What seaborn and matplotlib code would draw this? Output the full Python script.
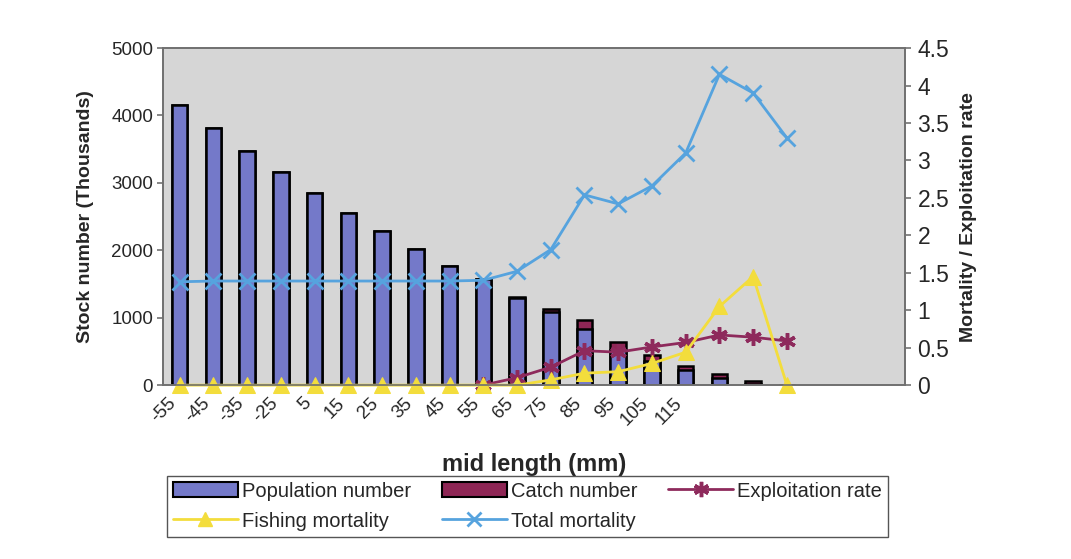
import numpy as np
import pandas as pd
import matplotlib
matplotlib.use("Agg")
import matplotlib.pyplot as plt
import seaborn as sns
from matplotlib.lines import Line2D
from matplotlib.patches import Patch
from matplotlib.ticker import FuncFormatter


# -----------------------------------------------------------------
# Datos (clases de talla, miles de individuos)
# -----------------------------------------------------------------
length_labels = ["-55", "-45", "-35", "-25", "5", "15", "25", "35", "45", "55",
                 "65", "75", "85", "95", "105", "115", "", "", "", "", "", ""]

population = [4160, 3810, 3477, 3156, 2853, 2557, 2285, 2013, 1766, 1568,
              1300, 1090, 835, 525, 365, 220, 100, 20, 0]
catch = [0, 0, 0, 0, 0, 0, 0, 0, 0, 0,
         10, 40, 130, 120, 80, 60, 60, 35, 5]

# la tasa de explotacion no tiene valores en las primeras clases
exploitation_rate = [np.nan, np.nan, np.nan, np.nan, np.nan, np.nan, np.nan, np.nan, np.nan, 0,
                     0.10, 0.24, 0.46, 0.44, 0.51, 0.57, 0.67, 0.64, 0.59]
fishing_mortality = [0, 0, 0, 0, 0, 0, 0, 0, 0, 0,
                     0, 0.07, 0.16, 0.18, 0.29, 0.44, 1.05, 1.45, 0]
total_mortality = [1.38, 1.39, 1.39, 1.39, 1.39, 1.39, 1.39, 1.39, 1.39, 1.40,
                   1.52, 1.81, 2.54, 2.42, 2.66, 3.10, 4.15, 3.90, 3.30]

# colores
pop_col = "#7479c9"
catch_col = "#8e2655"
expl_col = "#8e2a5c"
fish_col = "#f3dd3c"
total_col = "#56a3de"

sns.set_theme(style="white")
plt.rcParams['font.family'] = ['Liberation Sans', 'DejaVu Sans']

df = pd.DataFrame({
    "pos": np.arange(len(population)),
    "population": population,
    "catch": catch,
    "exploitation": exploitation_rate,
    "fishing": fishing_mortality,
    "total": total_mortality,
})
df["stack"] = df["population"] + df["catch"]

fig = plt.figure(figsize=(10.71, 5.59), dpi=100)
ax = fig.add_axes([0.152, 0.311, 0.693, 0.603])
ax.set_facecolor("#d6d6d6")

# barras apiladas: captura encima de la poblacion
sns.barplot(data=df, x="pos", y="stack", color=catch_col, saturation=1,
            width=0.46, edgecolor="black", linewidth=1.8, ax=ax)
sns.barplot(data=df, x="pos", y="population", color=pop_col, saturation=1,
            width=0.46, edgecolor="black", linewidth=1.8, ax=ax)

ax.set_xlim(-0.5, len(length_labels) - 0.5)
ax.set_ylim(0, 5000)
ax.set_yticks(np.arange(0, 5001, 1000))
ax.set_xticks(np.arange(len(length_labels)))
ax.set_xticklabels(length_labels, rotation=45, ha="right", fontsize=13.5)
ax.set_xticks(np.arange(-0.5, len(length_labels)), minor=True)
ax.tick_params(axis="x", which="major", length=0, pad=7)
ax.tick_params(axis="x", which="minor", length=4, color="#777777", direction="out")
ax.tick_params(axis="y", length=4, color="#777777", direction="out", labelsize=13.5, pad=3)
ax.set_ylabel("Stock number (Thousands)", fontsize=14, fontweight="bold", labelpad=12)
ax.set_xlabel("mid length (mm)", fontsize=17, fontweight="bold")
ax.xaxis.set_label_coords(0.5, -0.2)

# eje secundario: mortalidades y tasa de explotacion
ax2 = ax.twinx()
sns.lineplot(data=df, x="pos", y="exploitation", color=expl_col, linewidth=2,
             marker=(6, 2, 0), markersize=12, markeredgewidth=2.5,
             markeredgecolor=expl_col, clip_on=False, ax=ax2)
sns.lineplot(data=df, x="pos", y="fishing", color=fish_col, linewidth=2,
             marker="^", markersize=11, markeredgecolor=fish_col,
             clip_on=False, ax=ax2)
sns.lineplot(data=df, x="pos", y="total", color=total_col, linewidth=2,
             marker="x", markersize=11, markeredgewidth=2,
             markeredgecolor=total_col, clip_on=False, ax=ax2)

ax2.set_ylim(0, 4.5)
ax2.set_yticks(np.arange(0, 4.51, 0.5))
ax2.yaxis.set_major_formatter(FuncFormatter(lambda v, p: f"{v:g}"))
ax2.tick_params(axis="y", length=4, color="#777777", direction="out", labelsize=16.5, pad=5)
ax2.set_ylabel("Mortality / Exploitation rate", fontsize=14, fontweight="bold", labelpad=8)
ax2.set_xlabel("")
ax2.set_xlim(-0.5, len(length_labels) - 0.5)

for a in (ax, ax2):
    for sp in a.spines.values():
        sp.set_color("#707070")
        sp.set_linewidth(1.2)

# leyenda (orden por filas como en Excel)
h_pop = Patch(facecolor=pop_col, edgecolor="black", linewidth=1.5)
h_catch = Patch(facecolor=catch_col, edgecolor="black", linewidth=1.5)
h_expl = Line2D([], [], color=expl_col, lw=2, marker=(6, 2, 0), ms=11, mew=2.5)
h_fish = Line2D([], [], color=fish_col, lw=2, marker="^", ms=10)
h_total = Line2D([], [], color=total_col, lw=2, marker="x", ms=10, mew=2)

fig.legend([h_pop, h_fish, h_catch, h_total, h_expl],
           ["Population number", "Fishing mortality", "Catch number",
            "Total mortality", "Exploitation rate"],
           ncol=3, mode="expand", loc="center",
           bbox_to_anchor=(0.156, 0.032, 0.673, 0.125), borderaxespad=0,
           fontsize=14.5, handlelength=3.2, handletextpad=0.2, handleheight=0.8,
           frameon=True, fancybox=False, framealpha=1, edgecolor="#555555",
           facecolor="white", labelspacing=0.55, borderpad=0.3)

fig.savefig("out.png", dpi=100)
